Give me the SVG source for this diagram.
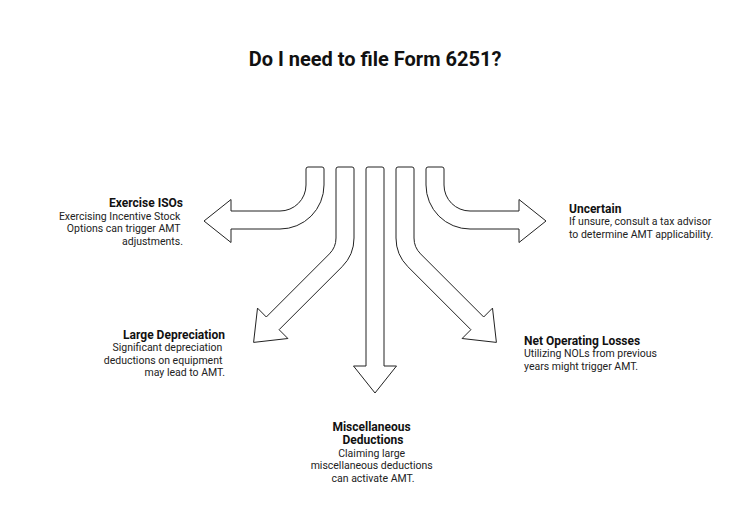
<svg xmlns="http://www.w3.org/2000/svg" width="750" height="532" viewBox="0 0 750 532">
  <style>
    .arrow { fill: #ffffff; stroke: #222222; stroke-width: 1; stroke-linejoin: miter; }
    .title { font-family: Roboto, "Liberation Sans", sans-serif; font-size: 20px; font-weight: bold; fill: #111111; }
    .head { font-family: Roboto, "Liberation Sans", sans-serif; font-size: 12px; font-weight: bold; fill: #111111; }
    .body { font-family: Roboto, "Liberation Sans", sans-serif; font-size: 10.5px; fill: #222222; }
  </style>
  <rect width="750" height="532" fill="#ffffff"/>
  <text class="title" x="375" y="66" text-anchor="middle">Do I need to file Form 6251?</text>

  <g id="connectors">
    <path id="arrow-isos" class="arrow" d="M 306 169 Q 306 167 308 167 L 322 167 Q 324 167 324 169 L 324 185 A 44 44 0 0 1 280 229 L 231 229 L 231 242.5 L 204 221 L 231 199.5 L 231 211 L 280 211 A 26 26 0 0 0 306 185 Z"/>
    <path id="arrow-depreciation" class="arrow" d="M 336 169 Q 336 167 338 167 L 352 167 Q 354 167 354 169 L 354 238 A 40.5 40.5 0 0 1 342.1 266.7 L 279.1 329.7 L 287.9 338.5 L 253.6 342.4 L 257.5 308.1 L 266.3 317 L 329.4 253.9 A 22.5 22.5 0 0 0 336 238 Z"/>
    <path id="arrow-misc" class="arrow" d="M 366 169 Q 366 167 368 167 L 382 167 Q 384 167 384 169 L 384 366 L 396.5 366 L 375 393 L 353.5 366 L 366 366 Z"/>
    <path id="arrow-nol" class="arrow" d="M 414 169 Q 414 167 412 167 L 398 167 Q 396 167 396 169 L 396 238 A 40.5 40.5 0 0 0 407.9 266.7 L 470.9 329.7 L 462.1 338.5 L 496.4 342.4 L 492.5 308.1 L 483.7 317 L 420.6 253.9 A 22.5 22.5 0 0 1 414 238 Z"/>
    <path id="arrow-uncertain" class="arrow" d="M 426 169 Q 426 167 428 167 L 442 167 Q 444 167 444 169 L 444 185 A 26 26 0 0 0 470 211 L 519 211 L 519 199.5 L 546 221 L 519 242.5 L 519 229 L 470 229 A 44 44 0 0 1 426 185 Z"/>
  </g>

  <g id="node-isos">
    <text class="head" x="183" y="207" text-anchor="end">Exercise ISOs</text>
    <text class="body" text-anchor="end">
      <tspan x="183" y="219.5">Exercising Incentive Stock</tspan>
      <tspan x="183" y="232">Options can trigger AMT</tspan>
      <tspan x="183" y="244.5">adjustments.</tspan>
    </text>
  </g>

  <g id="node-uncertain">
    <text class="head" x="569" y="212.5">Uncertain</text>
    <text class="body">
      <tspan x="569" y="225">If unsure, consult a tax advisor</tspan>
      <tspan x="569" y="237.5">to determine AMT applicability.</tspan>
    </text>
  </g>

  <g id="node-depreciation">
    <text class="head" x="225" y="339" text-anchor="end">Large Depreciation</text>
    <text class="body" text-anchor="end">
      <tspan x="225" y="351">Significant depreciation</tspan>
      <tspan x="225" y="363.5">deductions on equipment</tspan>
      <tspan x="225" y="376">may lead to AMT.</tspan>
    </text>
  </g>

  <g id="node-nol">
    <text class="head" x="524" y="344.5">Net Operating Losses</text>
    <text class="body">
      <tspan x="524" y="357">Utilizing NOLs from previous</tspan>
      <tspan x="524" y="369.5">years might trigger AMT.</tspan>
    </text>
  </g>

  <g id="node-misc">
    <text class="head" text-anchor="middle">
      <tspan x="373" y="431">Miscellaneous</tspan>
      <tspan x="373" y="444">Deductions</tspan>
    </text>
    <text class="body" text-anchor="middle">
      <tspan x="373" y="457">Claiming large</tspan>
      <tspan x="373" y="469">miscellaneous deductions</tspan>
      <tspan x="373" y="481.5">can activate AMT.</tspan>
    </text>
  </g>
</svg>
